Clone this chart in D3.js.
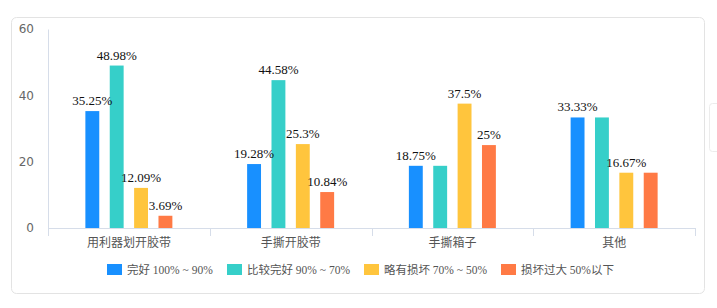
<!DOCTYPE html>
<html>
<head>
<meta charset="utf-8">
<script src="https://cdn.jsdelivr.net/npm/d3@7"></script>
<style>
  body { margin: 0; background: #fff; }
  svg { display: block; }
</style>
</head>
<body>
<script>
// data
var categories = ["用利器划开胶带", "手撕开胶带", "手撕箱子", "其他"];
var seriesNames = ["完好 100% ~ 90%", "比较完好 90% ~ 70%", "略有损坏 70% ~ 50%", "损坏过大 50%以下"];
var seriesValues = [
    [35.25, 19.28, 18.75, 33.33],
    [48.98, 44.58, 18.75, 33.33],
    [12.09, 25.3, 37.5, 16.67],
    [3.69, 10.84, 25, 16.67]
];
var yTicks = [0, 20, 40, 60];
var colors = ["#1890ff", "#36cfc9", "#ffc53d", "#ff7a45"];

var w = 717, h = 308;
var plot = {left: 48, right: 695, top: 29, bottom: 228};

var svg = d3.select("body").append("svg")
    .attr("width", w)
    .attr("height", h);

// card border
svg.append("rect")
    .attr("x", 11.5).attr("y", 17.5)
    .attr("width", 693).attr("height", 276)
    .attr("rx", 5)
    .attr("fill", "#fff")
    .attr("stroke", "#e3e3e3");

// small box peeking on the right
svg.append("rect")
    .attr("x", 709.5).attr("y", 103.5)
    .attr("width", 20).attr("height", 48)
    .attr("rx", 3)
    .attr("fill", "#fff")
    .attr("stroke", "#ececec");

var x = d3.scaleBand()
    .domain(categories)
    .range([plot.left, plot.right])
    .padding(0);

var y = d3.scaleLinear()
    .domain([0, 60])
    .range([plot.bottom, plot.top]);

var inner = d3.scaleBand()
    .domain(d3.range(seriesNames.length))
    .range([-43.5, 43.5])
    .paddingInner(0.43)
    .paddingOuter(0);

// y axis
var yAxis = svg.append("g")
    .attr("transform", "translate(" + plot.left + ",0)")
    .call(d3.axisLeft(y).tickValues(yTicks).tickSize(0).tickPadding(14));
yAxis.select(".domain").attr("stroke", "#d6dde9");
yAxis.selectAll("text")
    .attr("fill", "#666")
    .style("font-family", "'DejaVu Sans', sans-serif")
    .style("font-size", "12px");

// x axis
var xAxis = svg.append("g")
    .attr("transform", "translate(0," + plot.bottom + ")")
    .call(d3.axisBottom(x).tickSize(0).tickPadding(10));
xAxis.select(".domain").attr("stroke", "#d6dde9");
xAxis.selectAll("text")
    .attr("fill", "#555")
    .style("font-family", "'Noto Sans CJK SC', sans-serif")
    .style("font-size", "12px");
// boundary ticks between categories
var bounds = categories.map(function (c) { return x(c); }).concat([plot.right]);
svg.selectAll("line.bound")
    .data(bounds)
    .enter()
    .append("line")
    .attr("class", "bound")
    .attr("x1", function (d) { return Math.round(d) + 0.5; })
    .attr("x2", function (d) { return Math.round(d) + 0.5; })
    .attr("y1", plot.bottom)
    .attr("y2", plot.bottom + 8)
    .attr("stroke", "#d6dde9");

// bars
var bars = [];
seriesValues.forEach(function (vals, s) {
    vals.forEach(function (v, i) {
        bars.push({s: s, cat: categories[i], value: v});
    });
});

svg.selectAll("rect.bar")
    .data(bars)
    .enter()
    .append("rect")
    .attr("class", "bar")
    .attr("x", function (d) { return x(d.cat) + x.bandwidth() / 2 + inner(d.s); })
    .attr("y", function (d) { return y(d.value); })
    .attr("width", inner.bandwidth())
    .attr("height", function (d) { return plot.bottom - y(d.value); })
    .attr("fill", function (d) { return colors[d.s]; });

// value labels, hide ones that overlap an earlier label
var labelOrder = [];
categories.forEach(function (c) {
    for (var s = 0; s < seriesNames.length; s++) {
        labelOrder.push(bars.filter(function (b) { return b.cat === c && b.s === s; })[0]);
    }
});
var shown = [];
labelOrder.forEach(function (d) {
    var cx = x(d.cat) + x.bandwidth() / 2 + inner(d.s) + inner.bandwidth() / 2;
    var by = y(d.value) - 6;
    var t = svg.append("text")
        .attr("x", cx)
        .attr("y", by)
        .attr("text-anchor", "middle")
        .attr("fill", "#111")
        .style("font-family", "'Liberation Serif', serif")
        .style("font-size", "13px")
        .text(d.value + "%");
    var b = t.node().getBBox();
    var hit = shown.some(function (o) {
        return b.x < o.x + o.width && o.x < b.x + b.width &&
            b.y < o.y + o.height && o.y < b.y + b.height;
    });
    if (hit) t.remove();
    else shown.push(b);
});

// legend
var legendX = [107, 227, 364, 501];
var legend = svg.selectAll("g.legend")
    .data(seriesNames)
    .enter()
    .append("g")
    .attr("class", "legend")
    .attr("transform", function (d, i) { return "translate(" + legendX[i] + ",264)"; });
legend.append("rect")
    .attr("width", 15)
    .attr("height", 11)
    .attr("fill", function (d, i) { return colors[i]; });
legend.append("text")
    .attr("x", 20)
    .attr("y", 10)
    .attr("fill", "#555")
    .style("font-family", "'Liberation Serif', 'Noto Sans CJK SC', serif")
    .style("font-size", "11.5px")
    .text(function (d) { return d; });
</script>
</body>
</html>
